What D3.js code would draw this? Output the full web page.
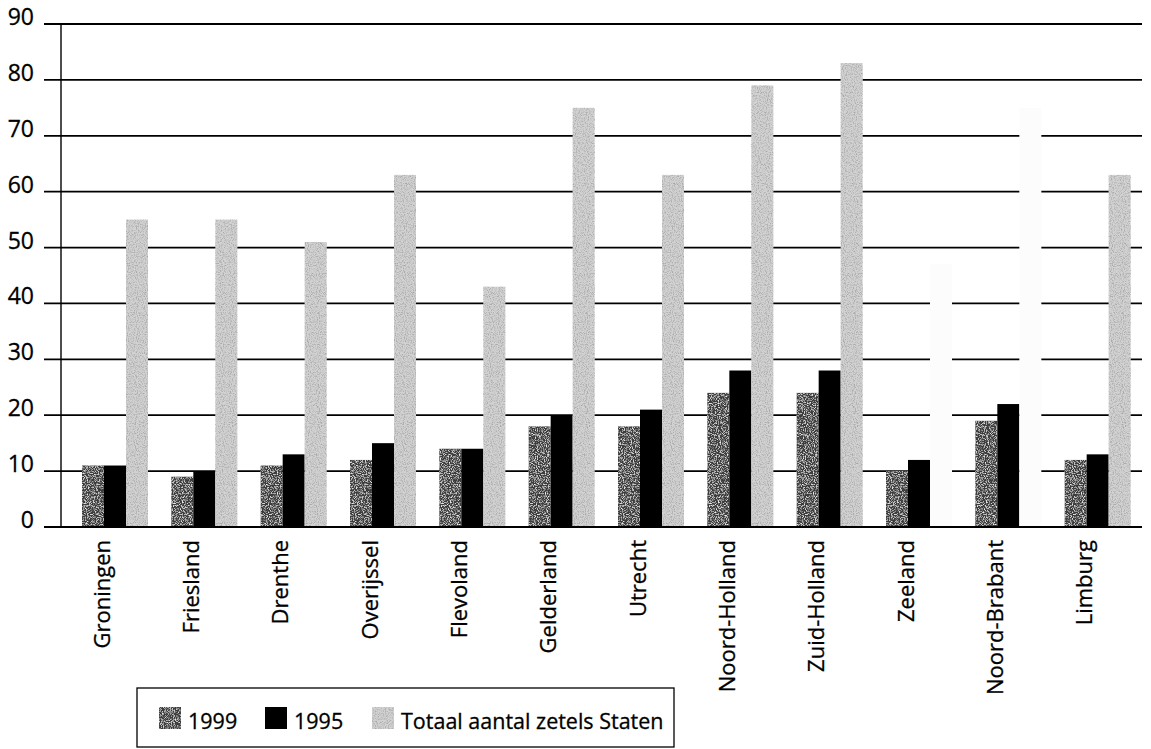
<!DOCTYPE html>
<html>
<head>
<meta charset="utf-8">
<script src="https://cdn.jsdelivr.net/npm/d3@7"></script>
<style>
  body { margin: 0; background: #fff; }
  svg text { font-family: "Open Sans", "Noto Sans", sans-serif; fill: #000; stroke: #000; stroke-width: 0.3px; }
</style>
</head>
<body>
<div id="chart"></div>
<script>
// seats per province, Provinciale Staten
const provinces = ["Groningen", "Friesland", "Drenthe", "Overijssel", "Flevoland", "Gelderland",
  "Utrecht", "Noord-Holland", "Zuid-Holland", "Zeeland", "Noord-Brabant", "Limburg"];
const seats1999 = [11, 9, 11, 12, 14, 18, 18, 24, 24, 10, 19, 12];
const seats1995 = [11, 10, 13, 15, 14, 20, 21, 28, 28, 12, 22, 13];
const totalSeats = [55, 55, 51, 63, 43, 75, 63, 79, 83, 47, 75, 63];
const seriesNames = ["1999", "1995", "Totaal aantal zetels Staten"];
const yTicks = [0, 10, 20, 30, 40, 50, 60, 70, 80, 90];

const width = 1151, height = 749;
const colors = { "1999": "#3e3e3e", "1995": "#000", "Totaal aantal zetels Staten": "#d2d2d2" };
const grain = { "1999": "url(#grainDark)", "1995": null, "Totaal aantal zetels Staten": "url(#grainLight)" };

const rows = provinces.map((p, i) => ({
  province: p,
  values: [seats1999[i], seats1995[i], totalSeats[i]]
}));

const svg = d3.select("#chart").append("svg")
  .attr("width", width)
  .attr("height", height);

// printed stipple look of the original
const defs = svg.append("defs");
const fDark = defs.append("filter").attr("id", "grainDark")
  .attr("x", 0).attr("y", 0).attr("width", 1).attr("height", 1);
fDark.append("feTurbulence").attr("type", "fractalNoise").attr("baseFrequency", 0.9)
  .attr("numOctaves", 2).attr("seed", 4).attr("result", "noise");
fDark.append("feColorMatrix").attr("in", "noise").attr("type", "matrix")
  .attr("values", "0 0 0 0 0.85  0 0 0 0 0.85  0 0 0 0 0.85  0 0 0 -3 1.6").attr("result", "dots");
fDark.append("feComposite").attr("in", "dots").attr("in2", "SourceGraphic").attr("operator", "in").attr("result", "dotsIn");
const mDark = fDark.append("feMerge");
mDark.append("feMergeNode").attr("in", "SourceGraphic");
mDark.append("feMergeNode").attr("in", "dotsIn");

const fLight = defs.append("filter").attr("id", "grainLight")
  .attr("x", 0).attr("y", 0).attr("width", 1).attr("height", 1);
fLight.append("feTurbulence").attr("type", "fractalNoise").attr("baseFrequency", 0.9)
  .attr("numOctaves", 2).attr("seed", 9).attr("result", "noise");
fLight.append("feColorMatrix").attr("in", "noise").attr("type", "matrix")
  .attr("values", "0 0 0 0 0.4  0 0 0 0 0.4  0 0 0 0 0.4  0 0 0 3 -1.3").attr("result", "dots");
fLight.append("feComposite").attr("in", "dots").attr("in2", "SourceGraphic").attr("operator", "in").attr("result", "dotsIn");
const mLight = fLight.append("feMerge");
mLight.append("feMergeNode").attr("in", "SourceGraphic");
mLight.append("feMergeNode").attr("in", "dotsIn");

const x = d3.scaleBand().domain(provinces).range([62, 1134]).padding(0);
const xSub = d3.scaleBand().domain(seriesNames).range([20, 86]).padding(0);
const y = d3.scaleLinear().domain([0, 90]).range([527, 24]);

// horizontal grid lines
svg.append("g").selectAll("line")
  .data(yTicks.filter(d => d > 0))
  .join("line")
  .attr("x1", 44).attr("x2", 1142)
  .attr("y1", d => y(d)).attr("y2", d => y(d))
  .attr("stroke", "#000")
  .attr("stroke-width", 1.8);

// y labels
const yAxis = svg.append("g")
  .attr("transform", "translate(34,0)")
  .call(d3.axisLeft(y).tickValues(yTicks).tickSize(0).tickPadding(0));
yAxis.select(".domain").remove();
yAxis.selectAll("text")
  .attr("dy", "0.02em")
  .style("font-size", "23px");

// bars
const groups = svg.append("g").selectAll("g")
  .data(rows)
  .join("g")
  .attr("transform", d => `translate(${x(d.province)},0)`);

// the totals for these two came out almost blank in the print
const faint = ["Zeeland", "Noord-Brabant"];
const isFaint = d => d.key === seriesNames[2] && faint.includes(d.province);

groups.selectAll("rect")
  .data(d => d.values.map((v, k) => ({ key: seriesNames[k], value: v, province: d.province })))
  .join("rect")
  .attr("x", d => xSub(d.key))
  .attr("width", xSub.bandwidth())
  .attr("y", d => y(d.value))
  .attr("height", d => y(0) - y(d.value))
  .attr("fill", d => isFaint(d) ? "#fcfcfc" : colors[d.key])
  .attr("filter", d => isFaint(d) ? null : grain[d.key]);

// axis lines
svg.append("line")
  .attr("x1", 61).attr("x2", 61)
  .attr("y1", y(90)).attr("y2", y(0))
  .attr("stroke", "#000").attr("stroke-width", 1.4);
svg.append("line")
  .attr("x1", 44).attr("x2", 1142)
  .attr("y1", y(0)).attr("y2", y(0))
  .attr("stroke", "#000").attr("stroke-width", 2);

// category labels, rotated
const xAxis = svg.append("g")
  .attr("transform", `translate(0,${y(0)})`)
  .call(d3.axisBottom(x).tickSize(0).tickPadding(0));
xAxis.select(".domain").remove();
xAxis.selectAll("text")
  .attr("transform", "rotate(-90)")
  .attr("text-anchor", "end")
  .attr("x", -13)
  .attr("y", 3)
  .attr("dy", "0")
  .style("font-size", "22px");

// legend
const legend = svg.append("g");
legend.append("rect")
  .attr("x", 137).attr("y", 688)
  .attr("width", 537).attr("height", 59)
  .attr("fill", "#fff")
  .attr("stroke", "#000").attr("stroke-width", 1.3);

const legendX = [159, 265, 372];
const items = legend.selectAll("g.item")
  .data(seriesNames)
  .join("g")
  .attr("class", "item")
  .attr("transform", (d, i) => `translate(${legendX[i]},707)`);
items.append("rect")
  .attr("width", 22).attr("height", 22)
  .attr("fill", d => colors[d])
  .attr("filter", d => grain[d]);
items.append("text")
  .attr("x", 29)
  .attr("y", 22)
  .style("font-size", "21.5px")
  .text(d => d);
</script>
</body>
</html>
